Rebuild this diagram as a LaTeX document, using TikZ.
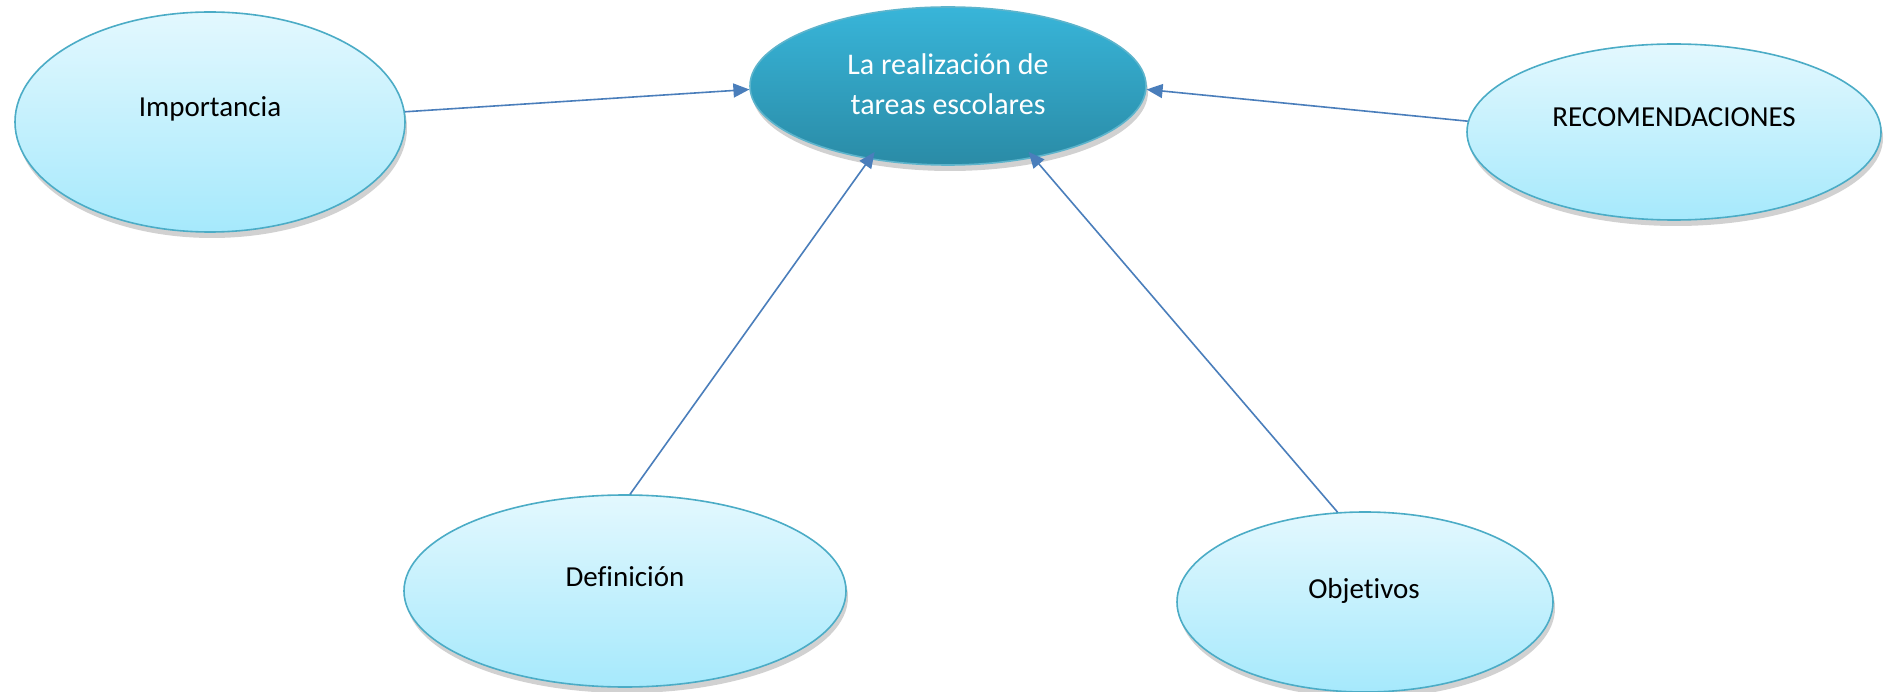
\documentclass[tikz,border=0pt]{standalone}
\usepackage{fontspec}
\setmainfont{Carlito}[Ligatures={NoCommon,NoContextual}]
\usetikzlibrary{shapes.geometric,arrows.meta,shadows}
\definecolor{linkblue}{HTML}{4A7EBB}
\definecolor{rimteal}{HTML}{4BACC6}
\definecolor{outtop}{HTML}{E3F8FE}
\definecolor{outbot}{HTML}{A6E9FC}
\definecolor{centop}{HTML}{38B5D9}
\definecolor{cenbot}{HTML}{2A8BA6}
\tikzset{
  bubble/.style={ellipse, inner sep=0pt, draw=rimteal, line width=1.6pt,
    top color=outtop, bottom color=outbot,
    drop shadow={shadow xshift=2pt, shadow yshift=-6pt, opacity=0.18, fill=black}},
  corebubble/.style={bubble, top color=centop, bottom color=cenbot, draw=rimteal!90!white},
  lbl/.style={anchor=base, inner sep=0pt, font=\fontsize{29}{35}\selectfont},
  corelbl/.style={inner sep=0pt, align=center, text=white, font=\fontsize{30}{40}\selectfont},
  link/.style={draw=linkblue, line width=1.6pt, -{Triangle[length=16pt,width=14pt]}}
}
\begin{document}
\begin{tikzpicture}[x=1pt,y=-1pt]
\useasboundingbox (0,0) rectangle (1889,692);
\fill[white] (0,0) rectangle (1889,692);
\node[corebubble, minimum width=396pt, minimum height=158pt] (cen) at (948,86) {};
\node[bubble, minimum width=390pt, minimum height=220pt] (imp) at (210,122) {};
\node[bubble, minimum width=414pt, minimum height=176pt] (rec) at (1674,132) {};
\node[bubble, minimum width=442pt, minimum height=192pt] (def) at (625,591) {};
\node[bubble, minimum width=376pt, minimum height=180pt] (obj) at (1365,602) {};
\node[corelbl] (cent) at (948,84) {La realización de\\tareas escolares};
\node[lbl] (impt) at (210,117) {Importancia};
\node[lbl] (rect) at (1674,127) {RECOMENDACIONES};
\node[lbl] (deft) at (625,586) {Definición};
\node[lbl] (objt) at (1364,598) {Objetivos};
\draw[link] (imp.3.2) -- (cen.181.75);
\draw[link] (rec.177.2) -- (cen.-1.75);
\draw[link, shorten >=-9pt] (def.87.6) -- (cen.223.3);
\draw[link, shorten >=-8pt] (obj.107.7) -- (cen.-40.5);
\end{tikzpicture}
\end{document}
